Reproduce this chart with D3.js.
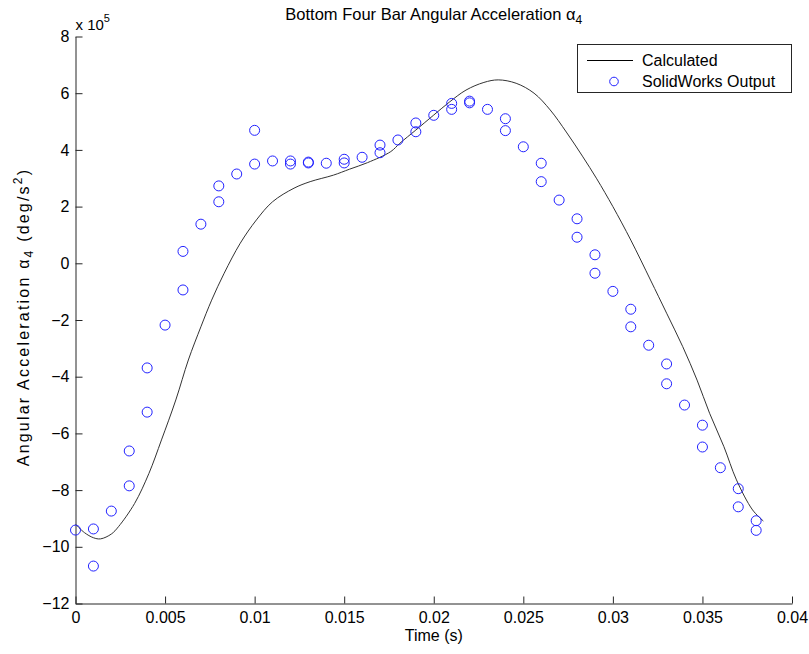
<!DOCTYPE html>
<html>
<head>
<meta charset="utf-8">
<script src="https://cdn.jsdelivr.net/npm/d3@7"></script>
<style>
  body { margin: 0; background: #fff; }
  text { font-family: "Liberation Sans", Arial, Helvetica, sans-serif; }
</style>
</head>
<body>
<svg id="chart" width="809" height="654"></svg>
<script>
// ---- data (values in units of 10^5 deg/s^2) ----
const calcTime = [0, 0.0005, 0.001, 0.0014, 0.002, 0.0024, 0.0033, 0.0041, 0.0048, 0.0056, 0.0063, 0.0070, 0.0076, 0.0083, 0.0092, 0.0101, 0.0110, 0.0122, 0.0131, 0.0144, 0.0153, 0.0163, 0.0176, 0.0181, 0.0190, 0.0200, 0.0209, 0.0218, 0.0228, 0.0236, 0.0246, 0.0256, 0.0265, 0.0274, 0.0283, 0.0291, 0.0300, 0.0310, 0.0321, 0.0330, 0.0339, 0.0347, 0.0354, 0.0362, 0.0369, 0.0378, 0.0384];
const calcAccel = [-9.20, -9.50, -9.68, -9.72, -9.55, -9.29, -8.47, -7.41, -6.23, -4.82, -3.41, -2.24, -1.30, -0.35, 0.71, 1.53, 2.17, 2.65, 2.88, 3.11, 3.32, 3.55, 3.94, 4.23, 4.70, 5.23, 5.70, 6.11, 6.38, 6.47, 6.35, 6.00, 5.41, 4.63, 3.78, 2.98, 2.00, 0.82, -0.59, -1.76, -2.94, -4.12, -5.29, -6.47, -7.64, -8.70, -9.09];

const swTime = [0, 0.001, 0.001, 0.002, 0.003, 0.003, 0.004, 0.004, 0.005, 0.006, 0.006, 0.007, 0.008, 0.008, 0.009, 0.010, 0.010, 0.011, 0.012, 0.012, 0.013, 0.013, 0.014, 0.015, 0.015, 0.016, 0.017, 0.017, 0.018, 0.019, 0.019, 0.020, 0.021, 0.021, 0.022, 0.022, 0.023, 0.024, 0.024, 0.025, 0.026, 0.026, 0.027, 0.028, 0.028, 0.029, 0.029, 0.030, 0.031, 0.031, 0.032, 0.033, 0.033, 0.034, 0.035, 0.035, 0.036, 0.037, 0.037, 0.038, 0.038];
const swAccel = [-9.41, -9.37, -10.68, -8.74, -6.62, -7.85, -3.69, -5.25, -2.18, 0.42, -0.94, 1.38, 2.73, 2.17, 3.15, 4.69, 3.50, 3.61, 3.61, 3.50, 3.57, 3.54, 3.53, 3.67, 3.54, 3.74, 4.17, 3.90, 4.35, 4.95, 4.64, 5.22, 5.64, 5.43, 5.72, 5.66, 5.43, 5.10, 4.68, 4.11, 3.53, 2.88, 2.23, 1.57, 0.92, 0.30, -0.35, -0.99, -1.62, -2.24, -2.89, -3.55, -4.25, -5.00, -5.71, -6.48, -7.21, -7.95, -8.59, -9.08, -9.42];

const xTicks = [0, 0.005, 0.01, 0.015, 0.02, 0.025, 0.03, 0.035, 0.04];
const xTickLabels = ["0", "0.005", "0.01", "0.015", "0.02", "0.025", "0.03", "0.035", "0.04"];
const yTicks = [-12, -10, -8, -6, -4, -2, 0, 2, 4, 6, 8];
const seriesNames = ["Calculated", "SolidWorks Output"];

// ---- layout ----
const svg = d3.select("#chart");
const mLeft = 75.5, mRight = 792, mTop = 36.5, mBottom = 603.5;
const axisColor = "#262626";
const fontSize = 16;

const x = d3.scaleLinear().domain([0, 0.04]).range([mLeft, mRight]);
const y = d3.scaleLinear().domain([-12, 8]).range([mBottom, mTop]);

// axes
const xAxis = d3.axisBottom(x).tickValues(xTicks)
  .tickFormat((d, i) => xTickLabels[i]).tickSizeInner(-7).tickSizeOuter(0).tickPadding(8);
const yAxis = d3.axisLeft(y).tickValues(yTicks)
  .tickFormat(d3.format("d")).tickSizeInner(-7).tickSizeOuter(0).tickPadding(6);

const gx = svg.append("g").attr("transform", `translate(0,${mBottom})`).call(xAxis);
const gy = svg.append("g").attr("transform", `translate(${mLeft},0)`).call(yAxis);
[gx, gy].forEach(g => {
  g.select(".domain").attr("stroke", axisColor).attr("stroke-width", 1);
  g.selectAll(".tick line").attr("stroke", axisColor);
  g.selectAll(".tick text").attr("fill", "#000").style("font-size", fontSize + "px")
    .style("font-family", "'Liberation Sans', Arial, sans-serif");
});

// calculated line
const calcData = calcTime.map((t, i) => [t, calcAccel[i]]);
const line = d3.line().x(d => x(d[0])).y(d => y(d[1])).curve(d3.curveCatmullRom.alpha(0.5));
svg.append("path").datum(calcData)
  .attr("d", line).attr("fill", "none").attr("stroke", "#333").attr("stroke-width", 1);

// solidworks markers
const swData = swTime.map((t, i) => [t, swAccel[i]]);
svg.append("g").selectAll("circle").data(swData).join("circle")
  .attr("cx", d => x(d[0])).attr("cy", d => y(d[1])).attr("r", 5)
  .attr("fill", "none").attr("stroke", "#2222ff").attr("stroke-width", 1);

// exponent label
const exp = svg.append("text").attr("x", mLeft).attr("y", 30)
  .style("font-size", "15px").attr("fill", "#000");
exp.append("tspan").text("x 10");
exp.append("tspan").attr("dy", -8).style("font-size", "11px").text("5");

// title
const title = svg.append("text").attr("x", (mLeft + mRight) / 2).attr("y", 20)
  .attr("text-anchor", "middle").style("font-size", "16.5px").attr("fill", "#000");
title.append("tspan").text("Bottom Four Bar Angular Acceleration \u03b1");
title.append("tspan").attr("dy", 4).style("font-size", "12px").text("4");

// x label
svg.append("text").attr("x", (mLeft + mRight) / 2).attr("y", 641)
  .attr("text-anchor", "middle").style("font-size", fontSize + "px").attr("fill", "#000")
  .text("Time (s)");

// y label
const yl = svg.append("text").attr("transform", `translate(29,${(mTop + mBottom) / 2 - 3}) rotate(-90)`)
  .attr("text-anchor", "middle").style("font-size", fontSize + "px")
  .style("letter-spacing", "2.2px").attr("fill", "#000");
yl.append("tspan").text("Angular Acceleration \u03b1");
yl.append("tspan").attr("dy", 4).style("font-size", "12px").text("4");
yl.append("tspan").attr("dy", -4).text(" (deg/s");
yl.append("tspan").attr("dy", -7).style("font-size", "12px").text("2");
yl.append("tspan").attr("dy", 7).text(")");

// legend
const lg = svg.append("g");
lg.append("rect").attr("x", 577.5).attr("y", 44.5).attr("width", 214).attr("height", 48)
  .attr("fill", "#fff").attr("stroke", axisColor).attr("stroke-width", 1);
lg.append("line").attr("x1", 587).attr("x2", 633).attr("y1", 60.5).attr("y2", 60.5)
  .attr("stroke", "#000").attr("stroke-width", 1);
lg.append("circle").attr("cx", 614).attr("cy", 81.5).attr("r", 4.3)
  .attr("fill", "none").attr("stroke", "#2222ff").attr("stroke-width", 1);
seriesNames.forEach((name, i) => {
  lg.append("text").attr("x", 642).attr("y", 66 + i * 21.3)
    .style("font-size", fontSize + "px").attr("fill", "#000").text(name);
});
</script>
</body>
</html>
